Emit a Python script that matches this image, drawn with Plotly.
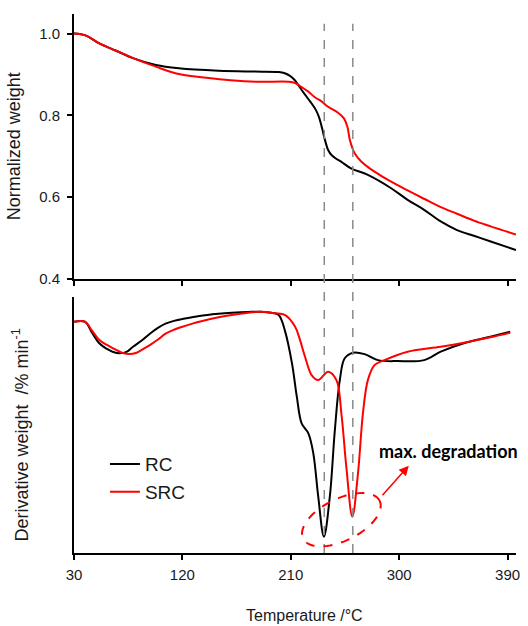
import numpy as np
import plotly.graph_objects as go

# ---------------- data ----------------
temp_tg_rc = [30, 40, 51, 65, 79, 98, 117, 150, 180, 200, 205, 209, 213, 216, 219, 222, 225, 228, 231,
              233.5, 236, 238.5, 241, 244, 248, 252, 260, 274, 293, 307, 321, 334.5, 348, 362, 376, 397]
tg_rc = [1.0, 0.995, 0.976, 0.958, 0.940, 0.923, 0.915, 0.909, 0.907, 0.906, 0.903, 0.897, 0.887, 0.875,
         0.862, 0.850, 0.838, 0.826, 0.812, 0.795, 0.768, 0.738, 0.715, 0.702, 0.693, 0.686, 0.670, 0.654,
         0.622, 0.593, 0.568, 0.540, 0.519, 0.505, 0.491, 0.470]

temp_tg_src = [30, 40, 51, 65, 79, 98, 117, 140, 160, 183, 208, 213.6, 219, 224.6, 230, 235.5, 241, 249,
               254, 257, 259, 261, 263, 268.5, 279.5, 293, 307, 321, 334.5, 348, 362, 376, 397]
tg_src = [1.0, 0.995, 0.976, 0.958, 0.940, 0.919, 0.901, 0.892, 0.886, 0.882, 0.882, 0.879, 0.869, 0.858,
          0.844, 0.834, 0.821, 0.807, 0.793, 0.772, 0.740, 0.721, 0.707, 0.687, 0.662, 0.638, 0.616, 0.595,
          0.575, 0.559, 0.542, 0.528, 0.508]

temp_dtg_rc = [30, 39, 45, 51, 57, 62, 68, 74, 79, 86, 93, 100, 106, 113, 120, 134, 150, 161, 175, 185,
               194, 200, 205, 211, 215, 219, 224.6, 228.7, 232.8, 237.5, 242.4, 246.6, 250.7, 254.8, 261.7,
               271.3, 282.3, 298.8, 320.8, 334.5, 353.7, 375.7, 392.2]
dtg_rc = [0, 0, -0.55, -1.08, -1.35, -1.5, -1.58, -1.5, -1.25, -0.95, -0.6, -0.3, -0.1, 0.04, 0.13, 0.29,
          0.4, 0.45, 0.49, 0.5, 0.45, 0.34, -0.42, -2.08, -3.75, -5.08, -5.58, -6.58, -8.75, -10.75, -8.75,
          -5.42, -2.92, -1.83, -1.55, -1.62, -1.92, -1.97, -1.92, -1.5, -1.08, -0.75, -0.5]

temp_dtg_src = [30, 39, 45, 51, 57, 62, 70, 76, 82, 88, 93, 100, 106, 113, 120, 127, 134, 150, 161, 175,
                185, 197, 205, 213.6, 217.7, 221.8, 227.3, 232.8, 241, 247.9, 252, 256.1, 261.1, 265.8,
                269.9, 274, 279.5, 287.8, 307, 334.5, 353.7, 375.7, 392.2]
dtg_src = [0, 0, -0.45, -0.92, -1.15, -1.32, -1.55, -1.62, -1.55, -1.35, -1.17, -0.88, -0.6, -0.4, -0.25,
           -0.12, 0, 0.22, 0.34, 0.45, 0.5, 0.42, 0.34, -0.25, -0.92, -1.75, -2.67, -2.92, -2.5, -2.92,
           -4.58, -7.25, -9.75, -7.58, -4.58, -2.92, -2.17, -1.92, -1.5, -1.25, -1.05, -0.78, -0.55]

peak_temps = [237.8, 261.5]
x_ticks = [30, 120, 210, 300, 390]
tg_ticks = [0.4, 0.6, 0.8, 1.0]
series_names = ["RC", "SRC"]
series_colors = ["#000000", "#ff0000"]

# ---------------- layout constants ----------------
W, H = 528, 626
ML, MR, MT, MB = 74, 8, 14, 73
x_range = [30, 397]
tg_range = [0.4, 1.048]
dtg_range = [-11.565, 1.25]
top_dom = [0.509, 1.0]
bot_dom = [0.0, 0.4755]

font_fam = "Liberation Sans, Arial, sans-serif"
txt_col = "#1a1a1a"

fig = go.Figure()

line_kw = dict(width=2, shape="spline", smoothing=1.0)
fig.add_trace(go.Scatter(x=temp_tg_rc, y=tg_rc, mode="lines", name=series_names[0],
                         line=dict(color=series_colors[0], **line_kw),
                         xaxis="x", yaxis="y", showlegend=False))
fig.add_trace(go.Scatter(x=temp_tg_src, y=tg_src, mode="lines", name=series_names[1],
                         line=dict(color=series_colors[1], **line_kw),
                         xaxis="x", yaxis="y", showlegend=False))
fig.add_trace(go.Scatter(x=temp_dtg_rc, y=dtg_rc, mode="lines", name=series_names[0],
                         line=dict(color=series_colors[0], **line_kw),
                         xaxis="x2", yaxis="y2"))
fig.add_trace(go.Scatter(x=temp_dtg_src, y=dtg_src, mode="lines", name=series_names[1],
                         line=dict(color=series_colors[1], **line_kw),
                         xaxis="x2", yaxis="y2"))

axis_common = dict(showline=True, linecolor="black", linewidth=2, showgrid=False, zeroline=False,
                   ticks="outside", tickcolor="black", tickwidth=1.5, ticklen=5,
                   tickfont=dict(family=font_fam, size=15, color=txt_col))

fig.update_layout(
    width=W, height=H,
    margin=dict(l=ML, r=MR, t=MT, b=MB),
    paper_bgcolor="white", plot_bgcolor="white",
    font=dict(family=font_fam, color=txt_col),
    xaxis=dict(**axis_common, domain=[0, 1], range=x_range, anchor="y", tickvals=x_ticks,
               showticklabels=False),
    yaxis=dict(**axis_common, domain=top_dom, range=tg_range, anchor="x", tickvals=tg_ticks,
               ticktext=[f"{v:.1f}" for v in tg_ticks], ticklabelstandoff=4,
               title=dict(text="Normalized weight", font=dict(size=18, family=font_fam, color=txt_col),
                          standoff=14)),
    xaxis2=dict(**axis_common, domain=[0, 1], range=x_range, anchor="y2", tickvals=x_ticks,
                ticklabelstandoff=2),
    yaxis2=dict(showline=True, linecolor="black", linewidth=2, showgrid=False, zeroline=False,
                domain=bot_dom, range=dtg_range, anchor="x2", showticklabels=False, ticks=""),
    legend=dict(x=0.07, y=0.2, xanchor="left", yanchor="top", bgcolor="rgba(0,0,0,0)",
                font=dict(family=font_fam, size=19, color=txt_col), tracegroupgap=0),
)

# axis titles placed to match the reference
fig.add_annotation(xref="paper", yref="paper", x=(307 - ML) / (W - ML - MR), y=(H - MB - 615) / (H - MT - MB),
                   xanchor="center", yanchor="middle",
                   text="Temperature /°C", showarrow=False,
                   font=dict(size=16, family=font_fam, color=txt_col))
fig.add_annotation(xref="paper", yref="paper", x=(20 - ML) / (W - ML - MR), y=(H - MB - 435) / (H - MT - MB),
                   xanchor="center", yanchor="middle",
                   text="Derivative weight  /% min<sup>-1</sup>", textangle=-90, showarrow=False,
                   font=dict(size=18, family=font_fam, color=txt_col))

# dashed vertical lines through both panels
for t in peak_temps:
    fig.add_shape(type="line", xref="x2", yref="paper", x0=t, x1=t, y0=0, y1=0.982,
                  line=dict(color="#8a8a8a", width=1.5, dash="dash"))

# helpers: pixel scale of the bottom panel
plot_w = W - ML - MR
plot_h = H - MT - MB
px_per_T = plot_w / (x_range[1] - x_range[0])
px_per_d = plot_h * (bot_dom[1] - bot_dom[0]) / (dtg_range[1] - dtg_range[0])

# tilted dashed ellipse around the two maxima of degradation
cT, cD = 252, -9.9
a_px, b_px, ang = 43, 21, np.deg2rad(26)
th = np.linspace(0, 2 * np.pi, 73)
ex = a_px * np.cos(th) * np.cos(ang) - b_px * np.sin(th) * np.sin(ang)
ey = a_px * np.cos(th) * np.sin(ang) + b_px * np.sin(th) * np.cos(ang)
eT = cT + ex / px_per_T
eD = cD + ey / px_per_d
path = "M " + " L ".join(f"{t:.3f},{d:.4f}" for t, d in zip(eT, eD)) + " Z"
fig.add_shape(type="path", xref="x2", yref="y2", path=path,
              line=dict(color="#ff0000", width=2, dash="dash"))

# arrow
fig.add_annotation(xref="x2", yref="y2", axref="x2", ayref="y2", x=308, y=-7.2, ax=285, ay=-8.75,
                   text="", showarrow=True, arrowhead=2, arrowsize=1.3, arrowwidth=1.5,
                   arrowcolor="#ff0000")
fig.add_annotation(xref="x2", yref="y2", x=341, y=-6.45, text="<b>max. degradation</b>",
                   showarrow=False, font=dict(family="Lato, sans-serif", size=18, color="#000000"))

fig.write_html("out.html")
